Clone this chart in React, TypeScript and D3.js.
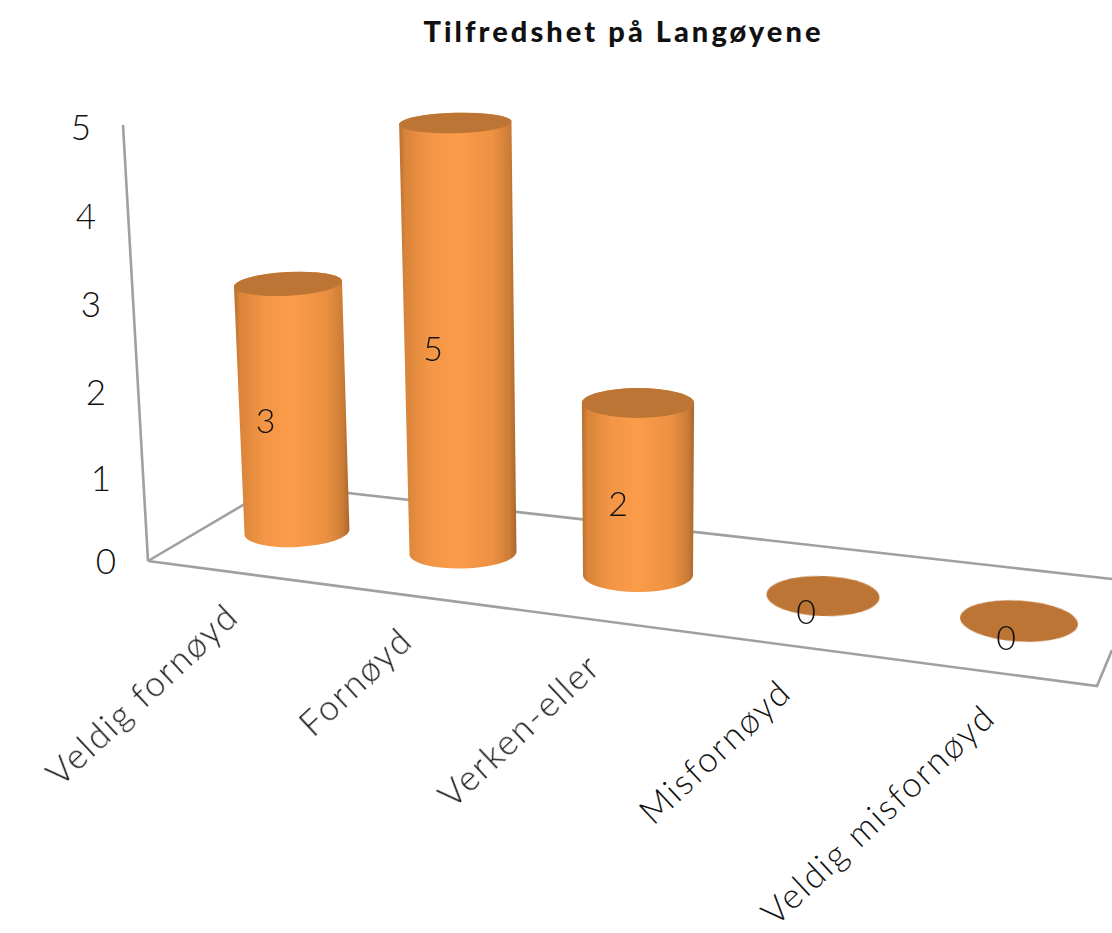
import React from "react";
import * as d3 from "d3";

const title = "Tilfredshet på Langøyene";
const categories = ["Veldig fornøyd", "Fornøyd", "Verken-eller", "Misfornøyd", "Veldig misfornøyd"];
const values = [3, 5, 2, 0, 0];
const yTicks = [0, 1, 2, 3, 4, 5];

const W = 1112, H = 933;
const FONT = "Lato, 'Open Sans', sans-serif";
const FONT_WEIGHT_LIGHT = 300;
const LINE = "#a0a0a0";
const idx = [0, 1, 2, 3, 4];

// projection of the floor: category index -> screen
const baseX = d3.scaleLinear().domain(idx).range([297, 463, 638, 823, 1019]);
const baseY = d3.scaleLinear().domain(idx).range([532, 553, 575, 596, 621]);
const baseRx = d3.scaleLinear().domain(idx).range([52.5, 53.5, 55, 56.5, 59]);
const baseRy = d3.scaleLinear().domain(idx).range([15, 15.5, 17, 20, 20.5]);
const tilt = d3.scaleLinear().domain([0, 2, 4]).range([-3, 0, 3.5]);
const unitHeight = d3.scaleLinear().domain([0, 1, 4]).range([82.7, 86, 86]);
const lean = d3.scaleLinear().domain([297, 638]).range([-3, 0]);
const labelDx = d3.scaleLinear().domain(idx).range([-27, -26, -20, -17, -13]);
const labelDy = d3.scaleLinear().domain([0, 1, 2, 4]).range([13, 11, 15, 17]);

// axis and tick label scales
const axisX = d3.scaleLinear().domain([0, 5]).range([148, 123]);
const axisY = d3.scaleLinear().domain([0, 5]).range([561, 125]);
const tickX = d3.scaleLinear().domain([0, 5]).range([106, 81]);
const tickY = d3.scalePow().exponent(1.03).domain([0, 5]).range([561, 127]);
const catLabelX = d3.scaleLinear().domain(idx).range([232, 406, 594, 785, 989]);
const catLabelY = d3.scaleLinear().domain(idx).range([610, 634, 660, 686, 711]);

function geom(i: number) {
  const v = values[i];
  const cx0 = baseX(i), cy0 = baseY(i);
  const rx0 = baseRx(i), ry0 = baseRy(i);
  const cx1 = cx0 + lean(cx0) * v;
  const cy1 = cy0 - unitHeight(i) * v;
  const rx1 = rx0 * (1 + 0.01 * v);
  const ry1 = Math.max(ry0 - v * 1.05, 8);
  return { v, cx0, cy0, rx0, ry0, cx1, cy1, rx1, ry1, rot: tilt(i) };
}

function bodyPath(g: ReturnType<typeof geom>) {
  const a = (g.rot * Math.PI) / 180;
  const c = Math.cos(a), s = Math.sin(a);
  const p = (cx: number, cy: number, rx: number, sign: number) =>
    `${cx + sign * rx * c} ${cy + sign * rx * s}`;
  return (
    `M${p(g.cx1, g.cy1, g.rx1, -1)}` +
    `L${p(g.cx0, g.cy0, g.rx0, -1)}` +
    `A${g.rx0} ${g.ry0} ${g.rot} 0 0 ${p(g.cx0, g.cy0, g.rx0, 1)}` +
    `L${p(g.cx1, g.cy1, g.rx1, 1)}` +
    `A${g.rx1} ${g.ry1} ${g.rot} 0 0 ${p(g.cx1, g.cy1, g.rx1, -1)}Z`
  );
}

const floorLine = d3.line();

export default function App() {
  const origin: [number, number] = [axisX(0), axisY(0)];
  const backCorner: [number, number] = [277, 485];
  return (
    <svg width={W} height={H} viewBox={`0 0 ${W} ${H}`}
      style={{ position: "absolute", left: 0, top: 0, background: "#fff" }}>
      <defs>
        <linearGradient id="cyl" x1="0" x2="1" y1="0" y2="0">
          <stop offset="0" stopColor="#b56f30" />
          <stop offset="0.05" stopColor="#d98439" />
          <stop offset="0.25" stopColor="#f29545" />
          <stop offset="0.5" stopColor="#fb9c49" />
          <stop offset="0.8" stopColor="#ec9042" />
          <stop offset="0.94" stopColor="#cd7d37" />
          <stop offset="1" stopColor="#a9672c" />
        </linearGradient>
        <filter id="soft" x="-5%" y="-5%" width="110%" height="110%">
          <feGaussianBlur stdDeviation="0.7" />
        </filter>
      </defs>

      <text x={622} y={42} textAnchor="middle" fontFamily={FONT} fontWeight={900}
        fontSize={29} fill="#111" textLength={397} lengthAdjust="spacing">{title}</text>

      <g fill="none" stroke={LINE} strokeWidth={2.6} filter="url(#soft)">
        <path d={floorLine([[axisX(5), axisY(5)], origin])!} />
        <path d={floorLine([origin, [1097, 686], [1112, 650]])!} />
        <path d={floorLine([origin, backCorner, [1112, 579]])!} />
      </g>

      {yTicks.map((t) => (
        <text key={t} x={tickX(t)} y={tickY(t)} dy="0.36em" textAnchor="middle"
          fontFamily={FONT} fontWeight={FONT_WEIGHT_LIGHT} fontSize={35} fill="#111">{t}</text>
      ))}

      <g filter="url(#soft)">
        {categories.map((c, i) => {
          const g = geom(i);
          return (
            <g key={c}>
              {g.v > 0 && <path d={bodyPath(g)} fill="url(#cyl)" />}
              <ellipse cx={g.cx1} cy={g.cy1} rx={g.rx1} ry={g.ry1} fill="#bd7534"
                transform={`rotate(${g.rot} ${g.cx1} ${g.cy1})`} />
            </g>
          );
        })}
      </g>

      {categories.map((c, i) => {
        const g = geom(i);
        return (
          <text key={c} x={(g.cx0 + g.cx1) / 2 + labelDx(i)} y={(g.cy0 + g.cy1) / 2 + labelDy(i)}
            dy="0.36em" textAnchor="middle" fontFamily={FONT} fontWeight={FONT_WEIGHT_LIGHT}
            fontSize={34} fill="#111">{g.v}</text>
        );
      })}

      {categories.map((c, i) => (
        <text key={c} textAnchor="end" fontFamily={FONT} fontWeight={FONT_WEIGHT_LIGHT} fontSize={35}
          fill="#111" letterSpacing={2}
          transform={`translate(${catLabelX(i)} ${catLabelY(i)}) rotate(-43)`} dy="0.36em">{c}</text>
      ))}
    </svg>
  );
}
